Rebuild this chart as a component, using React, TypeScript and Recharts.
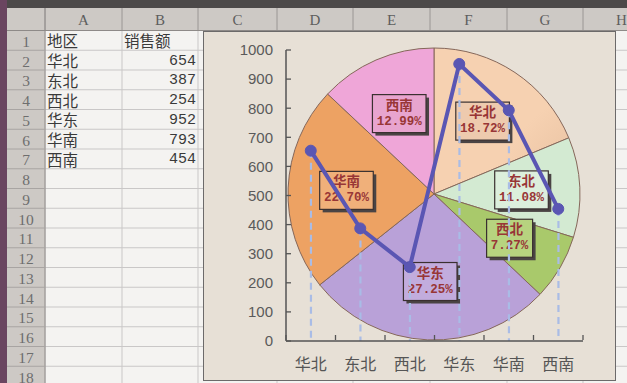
import React from 'react';
import { PieChart, Pie, Cell, ComposedChart, Line, Bar, XAxis, YAxis } from 'recharts';

const regions = ['华北', '东北', '西北', '华东', '华南', '西南'];
const sales = [654, 387, 254, 952, 793, 454];
const sliceColors = ['url(#gHuabei)', '#d3ead2', '#a9c96b', '#b9a1d8', '#eda263', 'url(#gXinan)'];
const labelFills = ['#eecaae', '#dcefdc', '#b7d37f', '#c2acdd', '#f0b07a', '#e8a4cf'];
const yTicks = [0, 100, 200, 300, 400, 500, 600, 700, 800, 900, 1000];
const colLetters = ['A', 'B', 'C', 'D', 'E', 'F', 'G', 'H'];
const headerRow = ['地区', '销售额'];
const rowNumbers = [1, 2, 3, 4, 5, 6, 7, 8, 9, 10, 11, 12, 13, 14, 15, 16, 17, 18];

const data = regions.map((r, i) => ({ name: r, sales: sales[i] }));

const colEdges = [45, 122, 198, 277, 353, 430, 507, 583, 660];
const rowTop0 = 30.5;
const rowH = 19.75;

const CJK = '"Noto Sans CJK SC", sans-serif';

function Sheet() {
  const rowTop = (k: number) => rowTop0 + rowH * (k - 1);
  return (
    <svg width={627} height={383} style={{ position: 'absolute', left: 0, top: 0 }}>
      <defs>
        <radialGradient id="gHuabei" gradientUnits="userSpaceOnUse" cx={434} cy={194} r={150}>
          <stop offset="0" stopColor="#cfa58a" />
          <stop offset="0.55" stopColor="#e9c2a2" />
          <stop offset="1" stopColor="#f6d1b1" />
        </radialGradient>
        <linearGradient id="gXinan" gradientUnits="userSpaceOnUse" x1={340} y1={70} x2={434} y2={190}>
          <stop offset="0" stopColor="#efa6d8" />
          <stop offset="0.6" stopColor="#e594c6" />
          <stop offset="1" stopColor="#c87ca8" />
        </linearGradient>
      </defs>
      <rect x={0} y={0} width={627} height={383} fill="#f4f3f1" />
      {rowNumbers.map((k) => (
        <line key={'h' + k} x1={45} x2={627} y1={rowTop(k + 1)} y2={rowTop(k + 1)} stroke="#c9c7c7" strokeWidth={1} />
      ))}
      {colEdges.map((x, i) => (
        <line key={'v' + i} x1={x} x2={x} y1={30} y2={383} stroke="#c9c7c7" strokeWidth={1} />
      ))}
      <rect x={7} y={8} width={620} height={22.5} fill="#cdc9c5" />
      <rect x={7} y={30} width={38} height={353} fill="#cdc9c5" />
      <line x1={7} x2={627} y1={30.5} y2={30.5} stroke="#8e8a88" />
      <line x1={45} x2={45} y1={8} y2={383} stroke="#8e8a88" />
      {colEdges.map((x, i) => (
        <line key={'hv' + i} x1={x} x2={x} y1={8} y2={30} stroke="#9a9694" />
      ))}
      {rowNumbers.map((k) => (
        <line key={'rh' + k} x1={7} x2={45} y1={rowTop(k + 1)} y2={rowTop(k + 1)} stroke="#a8a4a2" />
      ))}
      {colLetters.map((c, i) => (
        <text key={c} x={(colEdges[i] + colEdges[i + 1]) / 2} y={20} textAnchor="middle" dominantBaseline="central"
          fontFamily='"Liberation Serif", serif' fontSize={15} fill="#5e5e5e">{c}</text>
      ))}
      {rowNumbers.map((k) => (
        <text key={'rn' + k} x={26} y={rowTop(k) + rowH / 2 + 1} textAnchor="middle" dominantBaseline="central"
          fontFamily='"Liberation Serif", serif' fontSize={15.5} fill="#6e6e6e">{k}</text>
      ))}
      <text x={47} y={rowTop(1) + rowH / 2} dominantBaseline="central" fontFamily={CJK} fontSize={15.5} fill="#3a3a3a">{headerRow[0]}</text>
      <text x={124} y={rowTop(1) + rowH / 2} dominantBaseline="central" fontFamily={CJK} fontSize={15.5} fill="#3a3a3a">{headerRow[1]}</text>
      {regions.map((r, i) => (
        <text key={'a' + i} x={47} y={rowTop(i + 2) + rowH / 2} dominantBaseline="central" fontFamily={CJK} fontSize={15.5} fill="#3a3a3a">{r}</text>
      ))}
      {sales.map((v, i) => (
        <text key={'b' + i} x={196} y={rowTop(i + 2) + rowH / 2 + 1} textAnchor="end" dominantBaseline="central"
          fontFamily='"Liberation Mono", monospace' fontSize={15} fill="#3a3a3a">{v}</text>
      ))}
      <rect x={0} y={0} width={627} height={8} fill="#4c4949" />
      <rect x={0} y={0} width={7} height={383} fill="#6a4560" />
    </svg>
  );
}

const RAD = Math.PI / 180;

const renderLabel = (props: any) => {
  const { cx, cy, midAngle, outerRadius, percent, index } = props;
  const r = outerRadius * 0.6;
  const x = cx + r * Math.cos(-midAngle * RAD);
  const y = cy + r * Math.sin(-midAngle * RAD);
  const pct = (percent * 100).toFixed(2) + '%';
  const w = pct.length * 7.6 + 8;
  const h = 38;
  return (
    <g>
      <rect x={x - w / 2 + 3} y={y - h / 2 + 3} width={w} height={h} fill="#4a4444" />
      <rect x={x - w / 2} y={y - h / 2} width={w} height={h} fill={labelFills[index]} stroke="#3a3030" strokeWidth={1.2} />
      <text x={x} y={y - 4} textAnchor="middle" fontFamily={CJK} fontWeight="bold" fontSize={13.5} fill="#983636">{regions[index]}</text>
      <text x={x} y={y + 11} textAnchor="middle" fontFamily='"Liberation Mono", monospace' fontWeight="bold" fontSize={12.5} fill="#983636">{pct}</text>
    </g>
  );
};

const DropLine = (props: any) => {
  const { x, y, width, height } = props;
  const cx = x + width / 2;
  return <line x1={cx} x2={cx} y1={y} y2={y + height} stroke="#a9bce6" strokeWidth={2.2} strokeDasharray="7 5" />;
};

const XTick = (props: any) => {
  const { x, y, payload, width, visibleTicksCount, index } = props;
  const band = width / visibleTicksCount;
  const axisY = y - 23;
  return (
    <g>
      <line x1={x - band / 2} x2={x - band / 2} y1={axisY} y2={axisY - 5} stroke="#555" strokeWidth={1.3} />
      {index === visibleTicksCount - 1 && (
        <line x1={x + band / 2} x2={x + band / 2} y1={axisY} y2={axisY - 5} stroke="#555" strokeWidth={1.3} />
      )}
      <text x={x} y={y + 7} textAnchor="middle" fontFamily={CJK} fontSize={16} fill="#555">{payload.value}</text>
    </g>
  );
};

export default function App() {
  return (
    <div style={{ position: 'absolute', left: 0, top: 0, width: 627, height: 383, overflow: 'hidden' }}>
      <Sheet />
      <div style={{ position: 'absolute', left: 203, top: 31, width: 413, height: 350, boxSizing: 'border-box', border: '1.5px solid #6c6a6a', background: '#e7e0d6' }}>
        <div style={{ position: 'absolute', left: 0, top: 0 }}>
          <PieChart width={411} height={348} margin={{ top: 0, right: 0, bottom: 0, left: 0 }}>
            <Pie data={data} dataKey="sales" nameKey="name" cx={230} cy={162} outerRadius={146}
              startAngle={90} endAngle={-270} stroke="#85675a" strokeWidth={1}
              label={renderLabel} labelLine={false} isAnimationActive={false}>
              {data.map((d, i) => (
                <Cell key={d.name} fill={sliceColors[i]} />
              ))}
            </Pie>
          </PieChart>
        </div>
        <div style={{ position: 'absolute', left: 0, top: 0 }}>
          <ComposedChart width={411} height={348} data={data} margin={{ top: 18, right: 32, bottom: 0, left: 0 }}>
            <XAxis dataKey="name" height={39} axisLine={{ stroke: '#555', strokeWidth: 1.5 }} tickLine={false}
              tickMargin={16} tick={<XTick />} interval={0} />
            <YAxis width={82} domain={[0, 1000]} ticks={yTicks} interval={0} axisLine={{ stroke: '#555', strokeWidth: 1.5 }}
              tickLine={{ stroke: '#555', strokeWidth: 1.3 }} tickSize={-5} tickMargin={18}
              tick={{ fontFamily: '"Liberation Sans", Arial, sans-serif', fontSize: 15, fill: '#5a5a5a' }} />
            <Bar dataKey="sales" shape={<DropLine />} isAnimationActive={false} />
            <Line dataKey="sales" type="linear" stroke="#5a56b3" strokeWidth={4}
              dot={{ r: 5.5, fill: '#5a56b3', stroke: '#5a56b3', strokeWidth: 1 }} isAnimationActive={false} />
          </ComposedChart>
        </div>
      </div>
    </div>
  );
}
